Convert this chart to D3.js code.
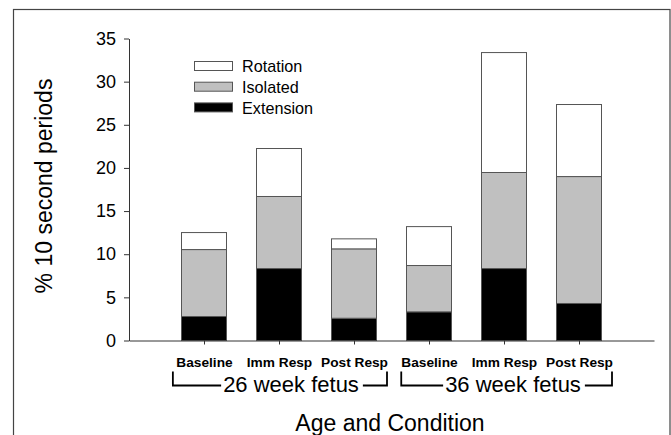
<!DOCTYPE html>
<html><head><meta charset="utf-8">
<script src="https://cdn.jsdelivr.net/npm/d3@7"></script>
<style>body{margin:0;background:#fff}svg{display:block;font-family:"Liberation Sans",Arial,sans-serif}</style>
</head><body><svg id="c" width="671" height="435"></svg>
<script>
const categories = ["Baseline","Imm Resp","Post Resp","Baseline","Imm Resp","Post Resp"];
const extension = [2.78, 8.34, 2.58, 3.32, 8.34, 4.29];
const isolated  = [7.76, 8.35, 8.04, 5.37, 11.13, 14.71];
const rotation  = [1.97, 5.56, 1.16, 4.51, 13.90, 8.35];
const seriesNames = ["Extension","Isolated","Rotation"];
const groups = ["26 week fetus","36 week fetus"];
const yTicks = [0,5,10,15,20,25,30,35];

const colors = {Extension:"#000000", Isolated:"#c0c0c0", Rotation:"#ffffff"};
const svg = d3.select("#c");

// frame
svg.append("rect").attr("x",13.5).attr("y",9.5).attr("width",656.5).attr("height",440)
  .attr("fill","none").attr("stroke","#444").attr("stroke-width",1.2);

const x = d3.scaleLinear().domain([0,7]).range([129,654]);
const y = d3.scaleLinear().domain([0,35]).range([340.5,38.5]);

const rows = categories.map((c,i)=>({i:i+1, Extension:extension[i], Isolated:isolated[i], Rotation:rotation[i]}));
const stack = d3.stack().keys(seriesNames)(rows);
const bw = x(0.6)-x(0);

stack.forEach(layer=>{
  svg.append("g").selectAll("rect").data(layer).join("rect")
    .attr("x",d=>x(d.data.i)-bw/2).attr("width",bw)
    .attr("y",d=>y(d[1])).attr("height",d=>y(d[0])-y(d[1]))
    .attr("fill",colors[layer.key]).attr("stroke","#555").attr("stroke-width",1);
});

// y axis
const yAxis = svg.append("g").attr("transform",`translate(${x(0)},0)`)
  .call(d3.axisLeft(y).tickValues(yTicks).tickSize(5).tickPadding(8).tickSizeOuter(0));
yAxis.select(".domain").attr("stroke","#333");
yAxis.selectAll(".tick line").attr("stroke","#333");
yAxis.selectAll("text").attr("font-size",18).attr("fill","#000").attr("font-family","Liberation Sans, Arial, sans-serif");

// x axis
const xAxis = svg.append("g").attr("transform",`translate(0,${y(0)})`)
  .call(d3.axisBottom(x).tickValues(d3.range(1,7)).tickSize(4).tickSizeOuter(0).tickFormat(d=>categories[d-1]));
xAxis.select(".domain").attr("stroke","#333");
xAxis.selectAll(".tick line").attr("stroke","#333");
xAxis.selectAll("text").attr("font-size",13.7).attr("font-weight","bold").attr("fill","#000")
  .attr("font-family","Liberation Sans, Arial, sans-serif").attr("dy",null).attr("y",26.5);

// group brackets
const brackets = [[0.585,3.44,291],[3.63,6.44,513]];
brackets.forEach((b,gi)=>{
  const x0=x(b[0]), x1=x(b[1]);
  const t = svg.append("text").attr("x",b[2]).attr("y",391.5).attr("text-anchor","middle")
    .attr("font-size",22).text(groups[gi]);
  const w = t.node().getComputedTextLength();
  const ly = 385.5, ty = 371.5;
  const path = `M${x0},${ty}V${ly}H${b[2]-w/2-2} M${b[2]+w/2+4},${ly}H${x1}V${ty}`;
  svg.append("path").attr("d",path).attr("fill","none").attr("stroke","#000").attr("stroke-width",1.8);
});

// titles
svg.append("text").attr("x",390).attr("y",431).attr("text-anchor","middle").attr("font-size",23).text("Age and Condition");
svg.append("text").attr("transform","translate(52,186) rotate(-90)").attr("text-anchor","middle")
  .attr("font-size",23).text("% 10 second periods");

// legend
const legendOrder = ["Rotation","Isolated","Extension"];
const lg = svg.append("g");
legendOrder.forEach((k,i)=>{
  lg.append("rect").attr("x",194.5).attr("y",61.5+i*20.7).attr("width",38).attr("height",9)
    .attr("fill",colors[k]).attr("stroke","#555").attr("stroke-width",1);
  lg.append("text").attr("x",242).attr("y",72.3+i*20.7).attr("font-size",16.2).text(k);
});
</script></body></html>
